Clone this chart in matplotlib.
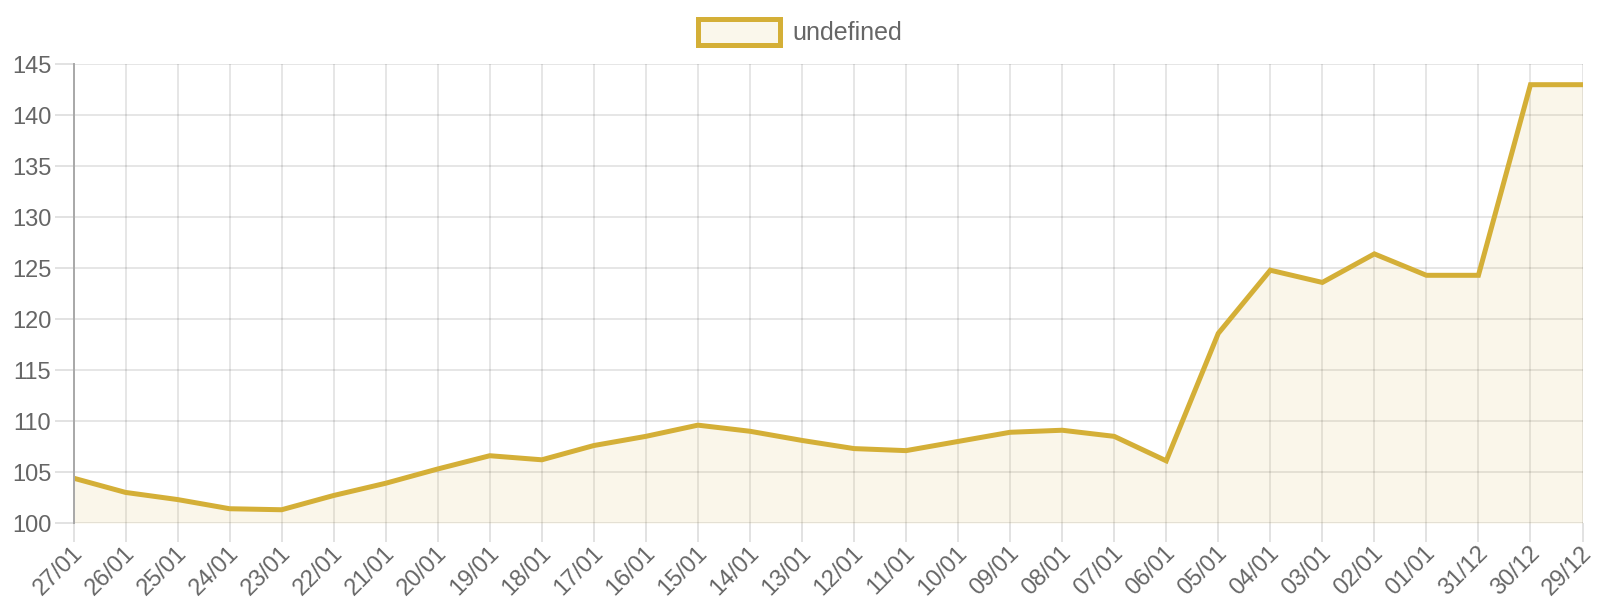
import matplotlib
matplotlib.use("Agg")
import matplotlib.pyplot as plt
from matplotlib.patches import Rectangle
from matplotlib.transforms import ScaledTranslation

labels = ["27/01", "26/01", "25/01", "24/01", "23/01", "22/01", "21/01", "20/01",
          "19/01", "18/01", "17/01", "16/01", "15/01", "14/01", "13/01", "12/01",
          "11/01", "10/01", "09/01", "08/01", "07/01", "06/01", "05/01", "04/01",
          "03/01", "02/01", "01/01", "31/12", "30/12", "29/12"]
values = [104.4, 103.0, 102.3, 101.4, 101.3, 102.7, 103.9, 105.3, 106.6, 106.2,
          107.6, 108.5, 109.6, 109.0, 108.1, 107.3, 107.1, 108.0, 108.9, 109.1,
          108.5, 106.1, 118.6, 124.8, 123.6, 126.4, 124.3, 124.3, 143.0, 143.0]
y_ticks = [100, 105, 110, 115, 120, 125, 130, 135, 140, 145]
series_name = "undefined"

plt.rcParams['font.family'] = ['Liberation Sans', 'DejaVu Sans']
line_color = "#d4af37"
fill_color = (212/255, 175/255, 55/255, 0.1)
text_color = "#666666"

fig = plt.figure(figsize=(16, 6), dpi=100)
ax = fig.add_axes([73.5/1600, 1 - 523/600, (1582.5 - 73.5)/1600, (523 - 64.3)/600])

x = list(range(len(values)))
ax.fill_between(x, 100, values, color=fill_color, linewidth=0, zorder=2)
ax.plot(x, values, color=line_color, linewidth=3.6, solid_joinstyle='miter', zorder=3)

ax.set_xlim(0, len(values) - 1)
ax.set_ylim(100, 145)
ax.set_xticks(x)
ax.set_xticklabels(labels, rotation=45, ha='right', va='top', rotation_mode='anchor',
                   fontsize=17)
ax.set_yticks(y_ticks)
ax.set_yticklabels([str(t) for t in y_ticks], fontsize=17)

ax.grid(True, color='black', alpha=0.1, linewidth=1.4, zorder=1)
ax.tick_params(axis='both', color='#e2e2e2', length=14, width=1.4, labelcolor=text_color)
ax.tick_params(axis='y', pad=2)
ax.tick_params(axis='x', pad=0)

offset = ScaledTranslation(-2/100, 0, fig.dpi_scale_trans)
for lab in ax.get_xticklabels():
    lab.set_transform(lab.get_transform() + offset)

for side in ['top', 'right', 'bottom']:
    ax.spines[side].set_visible(False)
ax.spines['left'].set_color('#a8a8a8')
ax.spines['left'].set_linewidth(1.4)
ax.spines['left'].set_zorder(4)

# legend
fig.patches.append(Rectangle((698/1600, 1 - 45/600), 82/1600, 26/600,
                             transform=fig.transFigure, facecolor=(250/255, 247/255, 235/255),
                             edgecolor=line_color, linewidth=3.6, zorder=5))
fig.text(792/1600, 1 - 33/600, series_name, color=text_color, fontsize=18,
         ha='left', va='center')

fig.savefig("out.png", dpi=100, facecolor='white')
